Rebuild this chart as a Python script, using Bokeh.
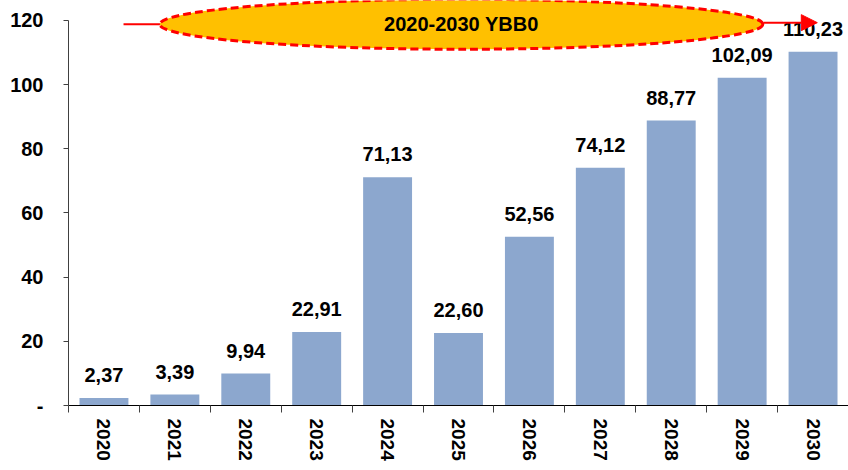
from bokeh.plotting import figure
from bokeh.models import (Range1d, FixedTicker, ColumnDataSource, LabelSet, Label,
                          Arrow, NormalHead)
from bokeh.core.properties import value
from bokeh.embed import file_html
from bokeh.resources import INLINE

years = ["2020", "2021", "2022", "2023", "2024", "2025", "2026", "2027", "2028", "2029", "2030"]
values = [2.37, 3.39, 9.94, 22.91, 71.13, 22.60, 52.56, 74.12, 88.77, 102.09, 110.23]
y_ticks = [0, 20, 40, 60, 80, 100, 120]
y_tick_labels = ["-", "20", "40", "60", "80", "100", "120"]
banner_text = "2020-2030 YBB0"

FONT = "Liberation Sans"
idx = list(range(len(years)))
labels = [f"{v:.2f}".replace(".", ",") for v in values]

src = ColumnDataSource(dict(x=idx, top=values, label=labels))

p = figure(width=848, height=470, output_backend="svg", toolbar_location=None,
           x_range=Range1d(-0.5, len(years) - 0.5), y_range=Range1d(0, 126.2),
           min_border_left=68, min_border_right=0, min_border_top=0, min_border_bottom=65)
p.title.visible = False
p.outline_line_color = None
p.xgrid.visible = False
p.ygrid.visible = False
p.background_fill_color = "white"

p.vbar(x="x", top="top", width=0.69, source=src, fill_color="#8CA7CE", line_color=None)

# y axis
p.yaxis.ticker = FixedTicker(ticks=y_ticks, minor_ticks=[])
p.yaxis.major_label_overrides = {t: l for t, l in zip(y_ticks, y_tick_labels)}
p.yaxis.bounds = (0, 120)
p.yaxis.axis_line_color = "#404040"
p.yaxis.major_tick_line_color = "#404040"
p.yaxis.major_tick_out = 5
p.yaxis.major_tick_in = 0
p.yaxis.minor_tick_line_color = None
p.yaxis.major_label_standoff = 20
p.yaxis.major_label_text_font = FONT
p.yaxis.major_label_text_font_style = "bold"
p.yaxis.major_label_text_font_size = "20px"
p.yaxis.major_label_text_color = "black"

# x axis
p.xaxis.ticker = FixedTicker(ticks=idx, minor_ticks=[i - 0.5 for i in range(len(years) + 1)])
p.xaxis.major_label_overrides = {i: y for i, y in zip(idx, years)}
p.xaxis.major_label_orientation = "vertical"
p.xaxis.axis_line_color = "black"
p.xaxis.major_tick_out = 0
p.xaxis.major_tick_in = 0
p.xaxis.major_tick_line_color = None
p.xaxis.minor_tick_out = 7
p.xaxis.minor_tick_in = 0
p.xaxis.minor_tick_line_color = "#404040"
p.xaxis.major_label_standoff = 6
p.xaxis.major_label_text_font = FONT
p.xaxis.major_label_text_font_style = "bold"
p.xaxis.major_label_text_font_size = "19px"
p.xaxis.major_label_text_color = "black"

# banner ellipse
ell_x, ell_y = 5.04, 118.8
p.segment(x0=[0.276], y0=[ell_y], x1=[0.79], y1=[ell_y], line_color="red", line_width=2)
p.ellipse(x=[ell_x], y=[ell_y], width=[603], height=[50], width_units="screen",
          height_units="screen", fill_color="#FFC000", line_color="#FF0000",
          line_width=3, line_dash="8 4")

p.add_layout(LabelSet(x="x", y="top", text="label", source=src, text_align="center",
                      text_baseline="alphabetic", y_offset=16, text_font=value(FONT),
                      text_font_style="bold", text_font_size="20px", text_color="black"))

p.add_layout(Label(x=ell_x, y=ell_y, text=banner_text, text_align="center",
                   text_baseline="middle", text_font=FONT, text_font_style="bold",
                   text_font_size="20px", text_color="black"))

p.add_layout(Arrow(x_start=9.30, y_start=119.3, x_end=10.06, y_end=119.3,
                   line_color="red", line_width=2,
                   end=NormalHead(size=16, fill_color="red", line_color="red")))

open("out.html", "w").write(file_html(p, INLINE))
